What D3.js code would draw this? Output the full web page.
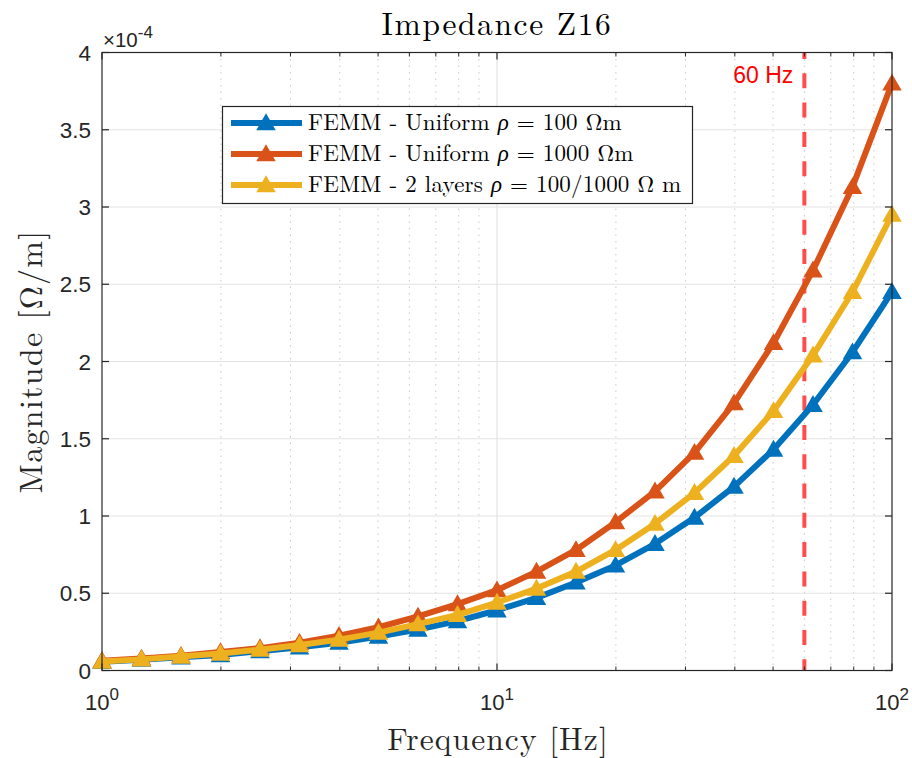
<!DOCTYPE html>
<html><head><meta charset="utf-8">
<script src="https://cdn.jsdelivr.net/npm/d3@7"></script>
<style>body{margin:0;background:#fff}svg{display:block}</style>
</head><body>
<script>
const freqs = [1,1.2589,1.5849,1.9953,2.5119,3.1623,3.9811,5.0119,6.3096,7.9433,10,12.589,15.849,19.953,25.119,31.623,39.811,50.119,63.096,79.433,100];
const uni100 = [0.056,0.07,0.085,0.10,0.125,0.15,0.18,0.22,0.265,0.32,0.39,0.47,0.57,0.68,0.82,0.99,1.19,1.43,1.72,2.06,2.45];
const uni1000 = [0.063,0.078,0.095,0.12,0.145,0.18,0.225,0.28,0.35,0.43,0.52,0.64,0.78,0.96,1.16,1.41,1.73,2.12,2.59,3.13,3.80];
const layers2 = [0.058,0.072,0.09,0.11,0.135,0.165,0.20,0.245,0.30,0.36,0.44,0.53,0.64,0.78,0.95,1.15,1.39,1.68,2.04,2.45,2.95];
const seriesNames = ["uni100","uni1000","layers2"];
const yTicks = [0,0.5,1,1.5,2,2.5,3,3.5,4];
const xMajor = [1,10,100];
const marker60 = 60;

const W=912,H=758;
const L=102,R=892,T=52.5,B=670.5;
const x=d3.scaleLog().domain([1,100]).range([L,R]);
const y=d3.scaleLinear().domain([0,4]).range([B,T]);
const colors=["#0072BD","#D95319","#EDB120"];
const data=[uni100,uni1000,layers2];
const sans="Liberation Sans, Arial, Helvetica, sans-serif";
const serif="Latin Modern Roman, Liberation Serif, Times New Roman, serif";

const svg=d3.select("body").append("svg").attr("width",W).attr("height",H);
svg.append("rect").attr("width",W).attr("height",H).attr("fill","#fff");

// minor grid
const minors=[];
[1,10].forEach(d=>{for(let k=2;k<=9;k++)minors.push(d*k);});
svg.append("g").selectAll("line").data(minors).join("line")
 .attr("x1",d=>x(d)).attr("x2",d=>x(d)).attr("y1",T).attr("y2",B)
 .attr("stroke","#c8c8c8").attr("stroke-width",1).attr("stroke-dasharray","1.5,5");
// major grid
svg.append("g").selectAll("line").data(yTicks.slice(1,-1)).join("line")
 .attr("x1",L).attr("x2",R).attr("y1",d=>y(d)).attr("y2",d=>y(d))
 .attr("stroke","#e3e3e3").attr("stroke-width",1.2);
svg.append("g").selectAll("line").data([10]).join("line")
 .attr("x1",d=>x(d)).attr("x2",d=>x(d)).attr("y1",T).attr("y2",B)
 .attr("stroke","#e3e3e3").attr("stroke-width",1.2);

// 60 Hz line
svg.append("line").attr("x1",x(marker60)).attr("x2",x(marker60)).attr("y1",T).attr("y2",B)
 .attr("stroke","#ff4d4d").attr("stroke-width",4).attr("stroke-dasharray","15,14.3").attr("stroke-dashoffset",8.5);
svg.append("text").attr("x",x(marker60)-11).attr("y",83).attr("text-anchor","end")
 .attr("font-family",sans).attr("font-size",23).attr("fill","#ff0000").text("60 Hz");

// lines
const line=d3.line().x((d,i)=>x(freqs[i])).y(d=>y(d));
const tri=d3.symbol().type(d3.symbolTriangle).size(165);
data.forEach((s,si)=>{
  svg.append("path").datum(s).attr("d",line).attr("fill","none").attr("stroke",colors[si])
   .attr("stroke-width",6).attr("stroke-linejoin","round");
  svg.append("g").selectAll("path").data(s).join("path")
   .attr("d",tri).attr("transform",(d,i)=>`translate(${x(freqs[i])},${y(d)+1.5})`)
   .attr("fill",colors[si]);
});

// axes box
const ax=svg.append("g");
ax.append("rect").attr("x",L).attr("y",T).attr("width",R-L).attr("height",B-T)
 .attr("fill","none").attr("stroke","#262626").attr("stroke-width",1.2);
const tickLen=7, minorLen=4;
xMajor.forEach(d=>{
  ax.append("line").attr("x1",x(d)).attr("x2",x(d)).attr("y1",B).attr("y2",B-tickLen).attr("stroke","#262626").attr("stroke-width",1.2);
  ax.append("line").attr("x1",x(d)).attr("x2",x(d)).attr("y1",T).attr("y2",T+tickLen).attr("stroke","#262626").attr("stroke-width",1.2);
});
minors.forEach(d=>{
  ax.append("line").attr("x1",x(d)).attr("x2",x(d)).attr("y1",B).attr("y2",B-minorLen).attr("stroke","#262626");
  ax.append("line").attr("x1",x(d)).attr("x2",x(d)).attr("y1",T).attr("y2",T+minorLen).attr("stroke","#262626");
});
yTicks.forEach(d=>{
  ax.append("line").attr("x1",L).attr("x2",L+tickLen).attr("y1",y(d)).attr("y2",y(d)).attr("stroke","#262626").attr("stroke-width",1.2);
  ax.append("line").attr("x1",R).attr("x2",R-tickLen).attr("y1",y(d)).attr("y2",y(d)).attr("stroke","#262626").attr("stroke-width",1.2);
  ax.append("text").attr("x",L-11).attr("y",y(d)+8).attr("text-anchor","end")
   .attr("font-family",sans).attr("font-size",22.5).attr("fill","#262626").text(d3.format("")(d));
});
// x tick labels 10^n
xMajor.forEach((d,i)=>{
  const t=ax.append("text").attr("x",x(d)).attr("y",B+39).attr("text-anchor","middle")
   .attr("font-family",sans).attr("font-size",22).attr("fill","#262626");
  t.append("tspan").text("10");
  t.append("tspan").attr("dy",-10).attr("font-size",17).text(String(Math.log10(d)));
});
// exponent label
const ex=svg.append("text").attr("x",L+1).attr("y",47).attr("font-family",sans).attr("font-size",20.5).attr("fill","#262626");
ex.append("tspan").text("×10");
ex.append("tspan").attr("dy",-9).attr("font-size",17).text("-4");

// title & labels
svg.append("text").attr("x",(L+R)/2).attr("y",35).attr("text-anchor","middle").attr("font-family",serif).attr("font-size",31.5).attr("letter-spacing",1.6).attr("fill","#000").text("Impedance Z16");
svg.append("text").attr("x",(L+R)/2+1).attr("y",750).attr("text-anchor","middle").attr("font-family",serif).attr("font-size",31.5).attr("letter-spacing",1.1).attr("fill","#262626").text("Frequency [Hz]");
svg.append("text").attr("transform",`translate(42,${(T+B)/2}) rotate(-90)`).attr("text-anchor","middle").attr("font-family",serif).attr("font-size",32).attr("letter-spacing",1.3).attr("fill","#262626").text("Magnitude [Ω/m]");

// legend
const lg=svg.append("g");
lg.append("rect").attr("x",222.5).attr("y",106.5).attr("width",470).attr("height",97).attr("fill","#fff").attr("stroke","#262626").attr("stroke-width",1.2);
const legTexts=[
 [["FEMM - Uniform ",""],["ρ","i"],[" = 100 Ωm",""]],
 [["FEMM - Uniform ",""],["ρ","i"],[" = 1000 Ωm",""]],
 [["FEMM - 2 layers ",""],["ρ","i"],[" = 100/1000 Ω m",""]]
];
const rowY=[123,154,185];
legTexts.forEach((parts,i)=>{
  lg.append("line").attr("x1",231).attr("x2",302).attr("y1",rowY[i]).attr("y2",rowY[i]).attr("stroke",colors[i]).attr("stroke-width",6);
  lg.append("path").attr("d",tri).attr("transform",`translate(266,${rowY[i]+1.5})`).attr("fill",colors[i]);
  const t=lg.append("text").attr("x",308).attr("y",rowY[i]+7).attr("font-family",serif).attr("font-size",23).attr("letter-spacing",0.2).attr("fill","#000");
  parts.forEach(p=>{t.append("tspan").attr("font-style",p[1]?"italic":"normal").text(p[0]);});
});
</script>
</body></html>
